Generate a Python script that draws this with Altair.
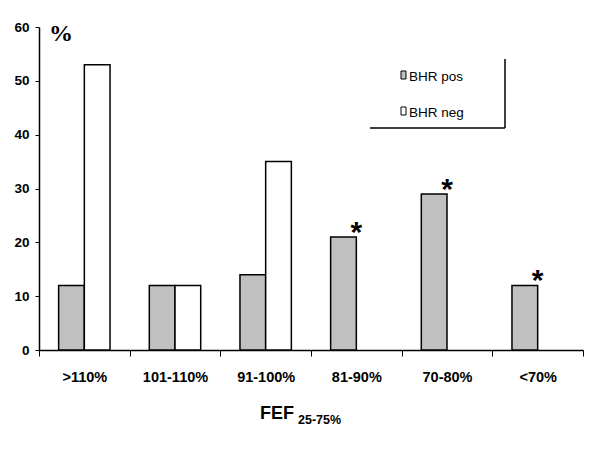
import altair as alt
import pandas as pd

categories = [">110%", "101-110%", "91-100%", "81-90%", "70-80%", "<70%"]
series = ["BHR pos", "BHR neg"]
bhr_pos = [12, 12, 14, 21, 29, 12]
bhr_neg = [53, 12, 35, 0, 0, 0]
significant = [False, False, False, True, True, True]
y_ticks = [0, 10, 20, 30, 40, 50, 60]
colors = ["#c0c0c0", "#ffffff"]

rows = []
for i, c in enumerate(categories):
    rows.append({"cat": c, "series": series[0], "value": bhr_pos[i]})
    rows.append({"cat": c, "series": series[1], "value": bhr_neg[i]})
df = pd.DataFrame(rows)
star_df = pd.DataFrame({
    "cat": [c for c, s in zip(categories, significant) if s],
    "value": [v for v, s in zip(bhr_pos, significant) if s],
})

W, H = 544, 323
FONT = "Liberation Sans"

x = alt.X("cat:N", sort=categories,
          scale=alt.Scale(domain=categories, paddingInner=0, paddingOuter=0),
          axis=alt.Axis(title=None, tickBand="extent", tickSize=6, labelAngle=0,
                        labelFont=FONT, labelFontSize=14.5, labelFontWeight="bold",
                        labelColor="black", labelBaseline="alphabetic", labelPadding=25,
                        domainColor="black", domainWidth=1.5, tickColor="black", tickWidth=1))
y = alt.Y("value:Q", scale=alt.Scale(domain=[0, 60], nice=False),
          axis=alt.Axis(title=None, values=y_ticks, tickSize=4, labelPadding=6, grid=False,
                        labelFont=FONT, labelFontSize=13.5, labelFontWeight="bold",
                        labelColor="black", domainColor="black", domainWidth=1.5,
                        tickColor="black", tickWidth=1))

bars = alt.Chart(df).transform_filter("datum.value > 0").mark_bar(
    stroke="black", strokeWidth=1.5
).encode(
    x=x, y=y,
    xOffset=alt.XOffset("series:N", sort=series,
                        scale=alt.Scale(domain=series, paddingInner=0, paddingOuter=0.764)),
    fill=alt.Fill("series:N", scale=alt.Scale(domain=series, range=colors), legend=None),
)

stars = alt.Chart(star_df).mark_text(
    text="*", font=FONT, fontSize=30, fontWeight="bold", color="black",
    baseline="alphabetic", dy=5
).encode(x=alt.X("cat:N", sort=categories), y=alt.Y("value:Q"))

one = pd.DataFrame({"k": [0]})

pct = alt.Chart(one).mark_text(
    text="%", font="Liberation Serif", fontSize=24, fontWeight="bold", color="black",
    align="left", baseline="alphabetic"
).encode(x=alt.value(10), y=alt.value(14))

fef = alt.Chart(one).mark_text(
    text="FEF", font=FONT, fontSize=18, fontWeight="bold", color="black",
    align="left", baseline="alphabetic"
).encode(x=alt.value(221), y=alt.value(392))
sub = alt.Chart(one).mark_text(
    text="25-75%", font=FONT, fontSize=12.5, fontWeight="bold", color="black",
    align="left", baseline="alphabetic"
).encode(x=alt.value(259), y=alt.value(397))

leg_layers = []
for i, (s, col) in enumerate(zip(series, colors)):
    d = pd.DataFrame({"label": [s]})
    y0 = 44 + 36 * i
    leg_layers.append(alt.Chart(d).mark_rect(fill=col, stroke="black", strokeWidth=1).encode(
        x=alt.value(362), x2=alt.value(367), y=alt.value(y0), y2=alt.value(y0 + 8)))
    leg_layers.append(alt.Chart(d).mark_text(
        font=FONT, fontSize=13.5, color="black", align="left", baseline="alphabetic"
    ).encode(x=alt.value(370), y=alt.value(y0 + 10), text="label:N"))

frame_v = alt.Chart(one).mark_rule(color="black", strokeWidth=1.5).encode(
    x=alt.value(466), y=alt.value(32), y2=alt.value(101))
frame_h = alt.Chart(one).mark_rule(color="black", strokeWidth=1.5).encode(
    x=alt.value(331), x2=alt.value(466), y=alt.value(101))

chart = alt.layer(bars, stars, pct, fef, sub, frame_v, frame_h, *leg_layers).properties(
    width=W, height=H,
    autosize=alt.AutoSizeParams(type="none"),
    padding={"left": 31, "top": 19, "right": 9, "bottom": 80},
).configure_view(stroke=None)

chart.save("out.html", embed_options={"renderer": "svg", "actions": False})
